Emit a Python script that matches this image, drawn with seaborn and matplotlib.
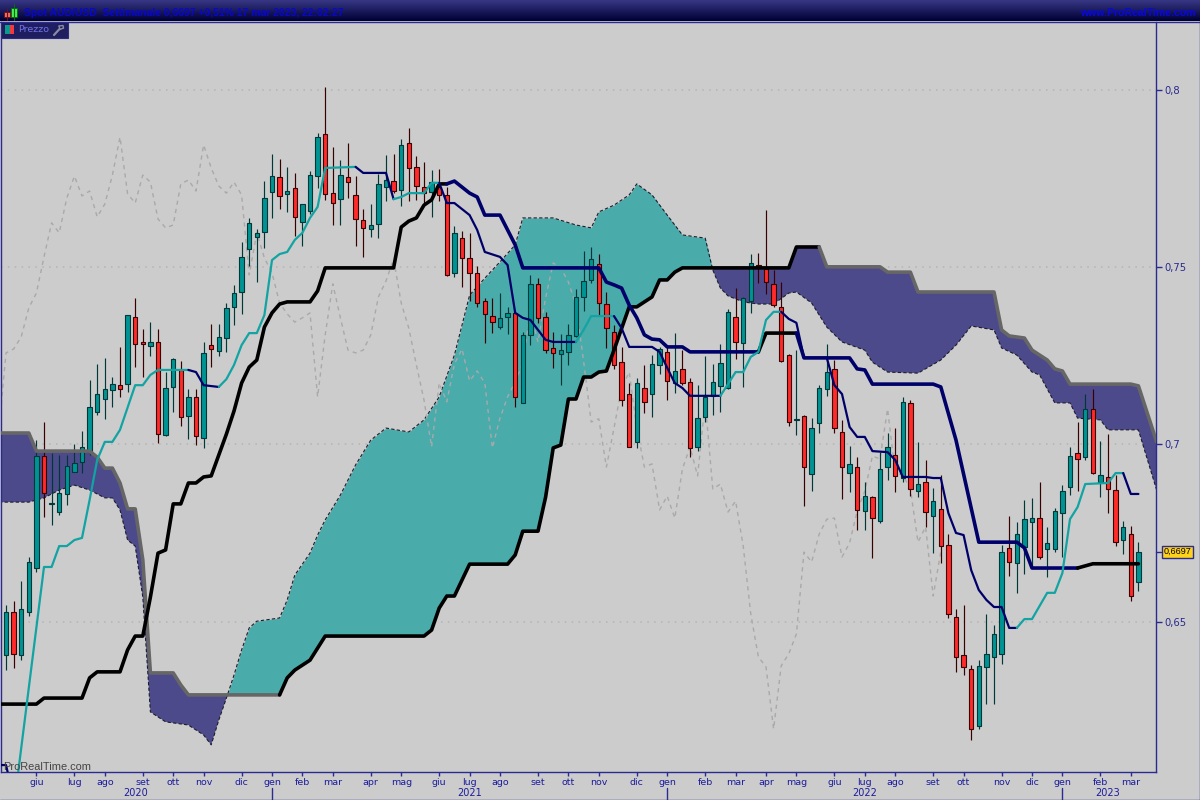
import numpy as np
import matplotlib
matplotlib.use("Agg")
import matplotlib.pyplot as plt
from matplotlib.patches import Rectangle
from matplotlib.transforms import blended_transform_factory
import seaborn as sns

# ---------- weekly AUD/USD candles ----------
highs = [.6547,.6558,.6614,.6682,.7012,.7063,.6976,.6970,.6970,.7001,
 .7038,.7182,.7227,.7244,.7190,.7275,.7365,.7413,.7326,.7345,
 .7326,.7204,.7244,.7235,.7156,.7156,.7289,.7340,.7340,.7399,
 .7450,.7571,.7639,.7608,.7743,.7820,.7805,.7783,.7766,.7678,
 .7771,.7879,.8009,.7839,.7803,.7850,.7757,.7664,.7678,.7763,
 .7817,.7820,.7862,.7893,.7814,.7797,.7774,.7777,.7726,.7616,
 .7602,.7597,.7503,.7413,.7413,.7427,.7388,.7371,.7317,.7478,
 .7470,.7374,.7317,.7311,.7340,.7438,.7546,.7557,.7537,.7430,
 .7337,.7275,.7173,.7187,.7224,.7252,.7275,.7275,.7314,.7266,
 .7187,.7167,.7249,.7227,.7283,.7382,.7441,.7416,.7537,.7540,
 .7661,.7492,.7458,.7255,.7266,.7083,.7074,.7167,.7283,.7238,
 .7069,.6995,.6964,.6894,.6854,.6979,.7032,.7046,.7134,.7125,
 .7007,.6956,.6877,.6914,.6747,.6535,.6547,.6377,.6391,.6521,
 .6490,.6716,.6798,.6781,.6843,.6849,.6894,.6767,.6820,.6885,
 .6993,.7063,.7142,.7156,.7009,.7029,.6914,.6784,.6770,.6724]
lows = [.6363,.6369,.6391,.6515,.6640,.6795,.6773,.6801,.6829,.6922,
 .6919,.6970,.7083,.7072,.7105,.7134,.7148,.7218,.7190,.7249,
 .7004,.7024,.7091,.7052,.7015,.6998,.6990,.7218,.7249,.7261,
 .7337,.7368,.7503,.7458,.7554,.7639,.7664,.7655,.7588,.7560,
 .7650,.7723,.7690,.7619,.7619,.7695,.7560,.7529,.7585,.7582,
 .7687,.7709,.7673,.7687,.7690,.7675,.7642,.7687,.7475,.7472,
 .7444,.7405,.7388,.7286,.7314,.7326,.7311,.7105,.7117,.7280,
 .7343,.7258,.7216,.7167,.7224,.7303,.7376,.7455,.7362,.7272,
 .7213,.7108,.6993,.6990,.7089,.7077,.7199,.7125,.7145,.7167,
 .6964,.6981,.7063,.7083,.7091,.7156,.7241,.7162,.7371,.7455,
 .7424,.7388,.7232,.7052,.7027,.6826,.6868,.7032,.7136,.7032,
 .6846,.6865,.6758,.6758,.6679,.6778,.6899,.6865,.6894,.6854,
 .6851,.6767,.6694,.6665,.6510,.6358,.6349,.6166,.6197,.6267,
 .6267,.6380,.6628,.6581,.6634,.6654,.6677,.6626,.6696,.6682,
 .6857,.6868,.6956,.6916,.6851,.6806,.6713,.6691,.6558,.6586]
opens = [.6406,.6527,.6406,.6527,.6651,.6967,.6832,.6809,.6860,.6922,
 .6950,.6979,.7091,.7128,.7153,.7167,.7170,.7359,.7289,.7278,
 .7289,.7027,.7162,.7210,.7080,.7134,.7018,.7280,.7264,.7300,
 .7388,.7430,.7551,.7585,.7599,.7712,.7754,.7707,.7723,.7627,
 .7659,.7757,.7876,.7709,.7692,.7754,.7704,.7633,.7608,.7622,
 .7726,.7743,.7718,.7850,.7783,.7726,.7712,.7726,.7704,.7484,
 .7582,.7526,.7484,.7405,.7362,.7331,.7359,.7371,.7117,.7309,
 .7453,.7359,.7272,.7255,.7261,.7306,.7416,.7464,.7509,.7396,
 .7317,.7232,.7142,.7007,.7159,.7142,.7224,.7261,.7173,.7213,
 .7176,.6993,.7077,.7136,.7165,.7159,.7359,.7286,.7405,.7506,
 .7495,.7453,.7388,.7252,.7069,.7080,.6916,.7060,.7156,.7213,
 .7035,.6919,.6936,.6812,.6851,.6784,.6936,.6970,.6905,.7117,
 .6868,.6894,.6798,.6818,.6716,.6513,.6406,.6366,.6205,.6372,
 .6400,.6409,.6708,.6665,.6710,.6781,.6792,.6705,.6705,.6806,
 .6880,.6976,.6964,.7100,.6894,.6908,.6871,.6730,.6747,.6612]
closes = [.6527,.6409,.6535,.6668,.6967,.6863,.6835,.6863,.6939,.6947,
 .6993,.7105,.7142,.7156,.7170,.7156,.7365,.7283,.7283,.7289,
 .7030,.7159,.7241,.7077,.7134,.7024,.7258,.7269,.7303,.7385,
 .7427,.7529,.7625,.7597,.7695,.7757,.7701,.7715,.7642,.7678,
 .7760,.7867,.7707,.7681,.7760,.7740,.7636,.7611,.7619,.7735,
 .7746,.7715,.7845,.7780,.7729,.7709,.7740,.7704,.7478,.7597,
 .7526,.7484,.7399,.7368,.7345,.7357,.7371,.7134,.7309,.7453,
 .7357,.7266,.7258,.7266,.7309,.7416,.7461,.7523,.7399,.7328,
 .7224,.7125,.6993,.7173,.7120,.7227,.7269,.7179,.7207,.7173,
 .6990,.7074,.7134,.7176,.7230,.7374,.7289,.7413,.7512,.7498,
 .7458,.7393,.7235,.7063,.7072,.6936,.7046,.7159,.7204,.7046,
 .6936,.6945,.6815,.6854,.6792,.6930,.6993,.6911,.7120,.6874,
 .6888,.6809,.6840,.6713,.6521,.6400,.6372,.6197,.6375,.6409,
 .6465,.6696,.6668,.6747,.6789,.6792,.6682,.6722,.6812,.6868,
 .6967,.6959,.7100,.6919,.6914,.6874,.6724,.6767,.6572,.6697]

# ---------- Ichimoku lines: week index and value ----------
tenkan_w = [-1,0,.6,1.4,5,6,7,8,9,10,11,12,13,14,15,17,18,19,20,24,25,26,28,29,30,31,32,33,34,35,36,37,38,39,40,41,42,46,47,50,51,52,53,55,56,57,58,59,61,62,63,65,66,67,68,69,70,71,72,75,76,77,80,81,82,85,86,87,88,89,90,94,95,96,97,98,99,100,101,102,103,104,105,108,109,110,111,112,113,114,116,117,118,121,122,123,124,125,126,127,128,129,130,131,132,133,134,135,136,137,138,139,140,141,142,145,146,147,148,149]
tenkan_v = [.6095,.6095,.6040,.6040,.6654,.6654,.6713,.6713,.6730,.6736,.6843,.6956,.7007,.7007,.7041,.7167,.7167,.7196,.7210,.7210,.7204,.7167,.7162,.7184,.7224,.7280,.7314,.7314,.7365,.7520,.7537,.7543,.7577,.7597,.7639,.7670,.7780,.7783,.7766,.7766,.7692,.7698,.7709,.7709,.7738,.7738,.7681,.7681,.7647,.7605,.7543,.7529,.7506,.7371,.7357,.7351,.7323,.7295,.7289,.7289,.7323,.7362,.7362,.7328,.7275,.7275,.7261,.7216,.7173,.7159,.7137,.7137,.7170,.7204,.7204,.7247,.7261,.7351,.7374,.7374,.7354,.7343,.7244,.7244,.7167,.7142,.7049,.7021,.7021,.6981,.6978,.6956,.6908,.6908,.6905,.6905,.6806,.6750,.6744,.6645,.6589,.6561,.6541,.6541,.6482,.6482,.6507,.6507,.6544,.6581,.6581,.6637,.6789,.6823,.6888,.6891,.6919,.6919,.6860,.6860]
kijun_w = [-1,4,5,10,11,12,15,16,17,18,19,20,21,22,23,24,25,26,27,28,29,30,31,32,33,34,35,36,37,40,41,42,51,52,53,54,55,56,57,58,59,60,61,62,63,65,66,67,68,78,79,80,81,82,83,84,85,86,87,89,90,99,100,104,105,111,112,113,114,122,123,125,126,127,128,133,134,135,141,143,149]
kijun_v = [.6267,.6267,.6284,.6284,.6341,.6358,.6358,.6420,.6459,.6459,.6569,.6693,.6702,.6832,.6832,.6891,.6891,.6908,.6911,.6970,.7029,.7094,.7173,.7218,.7238,.7331,.7371,.7396,.7402,.7402,.7433,.7498,.7498,.7613,.7630,.7639,.7675,.7690,.7735,.7735,.7743,.7726,.7709,.7698,.7647,.7647,.7605,.7563,.7498,.7498,.7458,.7450,.7441,.7393,.7357,.7309,.7297,.7295,.7275,.7275,.7261,.7261,.7314,.7314,.7244,.7244,.7213,.7210,.7170,.7170,.7162,.7012,.6916,.6820,.6724,.6724,.6708,.6651,.6651,.6663,.6663]
span_b_w = [-1,3,4,11,12,13,14,15,16,17,18,19,22,23,24,36,37,38,40,41,42,55,56,57,58,59,61,66,67,68,70,71,72,73,74,75,76,77,78,79,80,82,83,85,86,87,88,89,103,104,107,108,115,116,119,120,130,131,132,134,135,137,138,139,140,148,149,151.4]
span_b_v = [.7032,.7032,.6981,.6981,.6964,.6933,.6933,.6891,.6818,.6818,.6674,.6355,.6355,.6321,.6293,.6293,.6341,.6363,.6391,.6425,.6459,.6459,.6476,.6538,.6572,.6572,.6662,.6662,.6688,.6755,.6755,.6851,.6990,.6998,.7128,.7128,.7190,.7190,.7204,.7207,.7266,.7388,.7388,.7416,.7464,.7464,.7486,.7498,.7498,.7557,.7557,.7501,.7501,.7486,.7486,.7430,.7430,.7323,.7306,.7300,.7266,.7238,.7213,.7207,.7170,.7170,.7165,.7007]
span_a_w = [-1,3,5,7,9,11,13,14,15,16,17,18,19,21,24,26,27,28,29,30,31,32,33,36,37,38,40,41,42,44,46,48,50,53,55,57,59,61,63,65,67,68,72,75,77,78,80,82,83,85,87,89,92,93,94,95,97,99,101,103,104,106,108,110,113,114,116,120,123,125,127,130,131,133,135,136,138,140,141,144,145,149,151.4]
span_a_v = [.6837,.6837,.6849,.6871,.6885,.6871,.6849,.6849,.6815,.6730,.6713,.6569,.6245,.6217,.6208,.6180,.6152,.6222,.6284,.6349,.6420,.6482,.6501,.6510,.6561,.6631,.6693,.6744,.6787,.6857,.6942,.7012,.7046,.7035,.7069,.7134,.7252,.7421,.7469,.7515,.7563,.7639,.7639,.7619,.7611,.7656,.7675,.7704,.7735,.7704,.7647,.7591,.7582,.7492,.7441,.7419,.7402,.7396,.7396,.7427,.7430,.7399,.7331,.7289,.7266,.7232,.7204,.7201,.7238,.7280,.7334,.7323,.7272,.7252,.7204,.7196,.7117,.7117,.7074,.7069,.7041,.7041,.6871]

# ---------- axis text ----------
month_weeks = [4,9,13,18,22,26,31,35,39,43,48,52,57,61,65,70,74,78,83,87,92,96,100,104,109,113,117,122,126,131,135,139,144,148]
month_labels = ["giu","lug","ago","set","ott","nov","dic","gen","feb","mar","apr","mag",
                "giu","lug","ago","set","ott","nov","dic","gen","feb","mar","apr","mag",
                "giu","lug","ago","set","ott","nov","dic","gen","feb","mar"]
year_weeks = [17,61,113,145]
year_labels = ["2020","2021","2022","2023"]
year_breaks = [35,87,139]
price_ticks = [.65,.70,.75,.80]
price_labels = ["0,65","0,7","0,75","0,8"]
last_label = "0,6697"
last_price = .6697

TEAL, RED = "#009393", "#FF2A2A"
TEAL_D, RED_D = "#003838", "#3A0000"
NAVY, BLACK, GRAY = "#00006A", "#000000", "#666666"
TENKAN_TEAL = "#12A3A3"
BLUE = "#2A2A90"

sns.set_theme(style="white")
plt.rcParams["font.family"] = ["DejaVu Sans"]

fig = plt.figure(figsize=(12, 8), dpi=100, facecolor="#CCCCCC")
ax = fig.add_axes([1/1200, 28/800, 1155/1200, 750/800], facecolor="#CCCCCC")

weeks = np.arange(len(closes))
o, c, h, l = map(np.array, (opens, closes, highs, lows))
up = c >= o

# cloud
grid = np.linspace(-1, 151.4, 1525)
a = np.interp(grid, span_a_w, span_a_v)
b = np.interp(grid, span_b_w, span_b_v)
ax.fill_between(grid, a, b, where=a >= b, interpolate=True, color="#4AABAB", lw=0, zorder=1)
ax.fill_between(grid, a, b, where=a < b, interpolate=True, color="#4D4A8C", lw=0, zorder=1)
ax.plot(span_a_w, span_a_v, color="#1C1C2C", lw=0.8, dashes=(3, 2), zorder=1.5)

# lagging span: closes moved back 26 weeks
sns.lineplot(x=weeks[:-25] - 1, y=c[25:], color="#A9A9A9", lw=1.0, dashes=(3, 3), ax=ax,
             estimator=None, sort=False, legend=False, zorder=2)

# candles
ax.vlines(weeks[up], l[up], h[up], color=TEAL_D, lw=0.85, zorder=3)
ax.vlines(weeks[~up], l[~up], h[~up], color=RED_D, lw=0.85, zorder=3)
ax.bar(weeks[up], (c - o)[up], bottom=o[up], width=0.56, color=TEAL, edgecolor=TEAL_D, lw=0.8, zorder=4)
ax.bar(weeks[~up], (o - c)[~up], bottom=c[~up], width=0.56, color=RED, edgecolor=RED_D, lw=0.8, zorder=4)

def draw_spans(w, v, spans, lw, z):
    w, v = np.array(w), np.array(v)
    for lo, hi, col in spans:
        m = (w >= lo) & (w <= hi)
        sns.lineplot(x=w[m], y=v[m], color=col, lw=lw, ax=ax, estimator=None, sort=False,
                     legend=False, zorder=z)

draw_spans(span_b_w, span_b_v,
           [(-1, 36, GRAY), (36, 107, BLACK), (107, 152, GRAY)], 2.6, 5)
draw_spans(kijun_w, kijun_v,
           [(-1, 58, BLACK), (58, 99, NAVY), (99, 104, BLACK), (104, 141, NAVY), (141, 149, BLACK)], 2.6, 5.2)
draw_spans(tenkan_w, tenkan_v,
           [(-1, .6, NAVY), (1.4, 24, TENKAN_TEAL), (24, 28, NAVY), (28, 46, TENKAN_TEAL),
            (46, 51, NAVY), (51, 57, TENKAN_TEAL), (57, 75, NAVY), (75, 80, TENKAN_TEAL),
            (80, 94, NAVY), (94, 102, TENKAN_TEAL), (102, 133, NAVY), (133, 147, TENKAN_TEAL),
            (147, 149, NAVY)], 1.6, 5.4)

# scales: week 0 sits at pixel 6, one week is 7.6 pixels
ax.set_xlim(-5 / 7.6, 1150 / 7.6)
ax.set_ylim(.60754, .81919)
ax.set_xlabel("")
ax.set_ylabel("")

ax.yaxis.tick_right()
ax.set_yticks(price_ticks)
ax.set_yticklabels(price_labels)
ax.set_xticks(month_weeks)
ax.set_xticklabels(month_labels)
ax.tick_params(axis="y", length=4, width=1, color=BLUE, labelcolor=BLUE, labelsize=7.2, pad=2, right=True)
ax.tick_params(axis="x", length=3, width=1, color=BLUE, labelcolor="#1C1C9C", labelsize=6.8, pad=1, bottom=True)
ax.grid(axis="y", color="#B4B4B4", lw=1.1, ls=(0, (1, 3.5)), zorder=0)
ax.set_axisbelow(True)
for s in ("left", "right", "bottom"):
    ax.spines[s].set_color(BLUE)
    ax.spines[s].set_linewidth(1)
ax.spines["top"].set_visible(False)

# year row under the months
tr = blended_transform_factory(ax.transData, ax.transAxes)
for w, t in zip(year_weeks, year_labels):
    ax.text(w, -0.0285, t, transform=tr, color="#1C1C9C", fontsize=7, ha="center", va="center", clip_on=False)
for w in year_breaks:
    ax.plot([w, w], [-0.0213, -0.0373], transform=tr, color=BLUE, lw=1, clip_on=False)

# last price tag
ax.annotate(last_label, xy=(1, last_price), xycoords=("axes fraction", "data"),
            xytext=(5.4, 0), textcoords="offset points", va="center", ha="left",
            fontsize=6.5, family="Liberation Sans", color="#000000", annotation_clip=False, zorder=10,
            bbox=dict(boxstyle="square,pad=0.18", fc="#FFD21A", ec=BLUE, lw=1))
ax.plot([1, 1.0043], [last_price] * 2, transform=blended_transform_factory(ax.transAxes, ax.transData),
        color=BLUE, lw=1, clip_on=False)
ax.text(0.0017, 0.0067, "ProRealTime.com", transform=ax.transAxes, color="#444444", fontsize=7.9,
        family="Liberation Sans", ha="left", va="center", zorder=8)

# window chrome in pixel space
ov = fig.add_axes([0, 0, 1, 1], facecolor="none", zorder=6)
shade = np.linspace(0, 1, 22)[:, None, None]
ov.imshow(shade * np.array([[[0, 0, 54]]]) / 255 + (1 - shade) * np.array([[[54, 54, 132]]]) / 255,
          extent=(0, 1200, 21, 0), aspect="auto", interpolation="bilinear")
ov.set_xlim(0, 1200)
ov.set_ylim(800, 0)
ov.axis("off")
ov.plot([0, 1200], [21.5, 21.5], color=BLUE, lw=1)
ov.plot([1199.5, 1199.5], [21, 800], color=BLUE, lw=1)
ov.plot([0, 1200], [799.5, 799.5], color=BLUE, lw=1)

ov.plot([6.5, 6.5], [9, 20], color="#701010", lw=0.8)
ov.add_patch(Rectangle((3.5, 11.5), 6, 5.5, fc="#F06A6A", ec="#701010", lw=0.6))
ov.plot([14, 14], [4, 20], color="#0A6A0A", lw=0.8)
ov.add_patch(Rectangle((11, 7.5), 6, 9, fc="#44EE55", ec="#0A6A0A", lw=0.6))
ov.text(24, 12.5, "Spot AUD/USD  Settimanale 0,6697 +0,51% 17 mar 2023, 22:02:27", color="#0808CC",
        fontsize=7.5, family="Liberation Sans", weight="bold", va="center", ha="left")
ov.text(1196, 12.5, "www.ProRealTime.com", color="#0808DD", fontsize=7.6, family="Liberation Sans",
        weight="bold", va="center", ha="right")

ov.add_patch(Rectangle((1, 22), 67, 16, fc="#1E1E60", ec="#2C2C80", lw=0.8))
ov.add_patch(Rectangle((5, 25), 4.5, 9, fc="#0D9A8E", ec="none"))
ov.add_patch(Rectangle((9.5, 25), 4.5, 9, fc="#F03A40", ec="none"))
ov.text(18.5, 30, "Prezzo", color="#7070E8", fontsize=6.8, va="center", ha="left")
ov.plot([54, 59.5], [35, 29], color="#8A8AA0", lw=1.6, solid_capstyle="round")
ov.plot([59, 63, 63.5], [26, 25.5, 28], color="#8A8AA0", lw=1.0)
ov.plot([59, 60, 63.5], [26, 29.5, 28], color="#8A8AA0", lw=1.0)

fig.savefig("out.png", dpi=100, facecolor=fig.get_facecolor())
